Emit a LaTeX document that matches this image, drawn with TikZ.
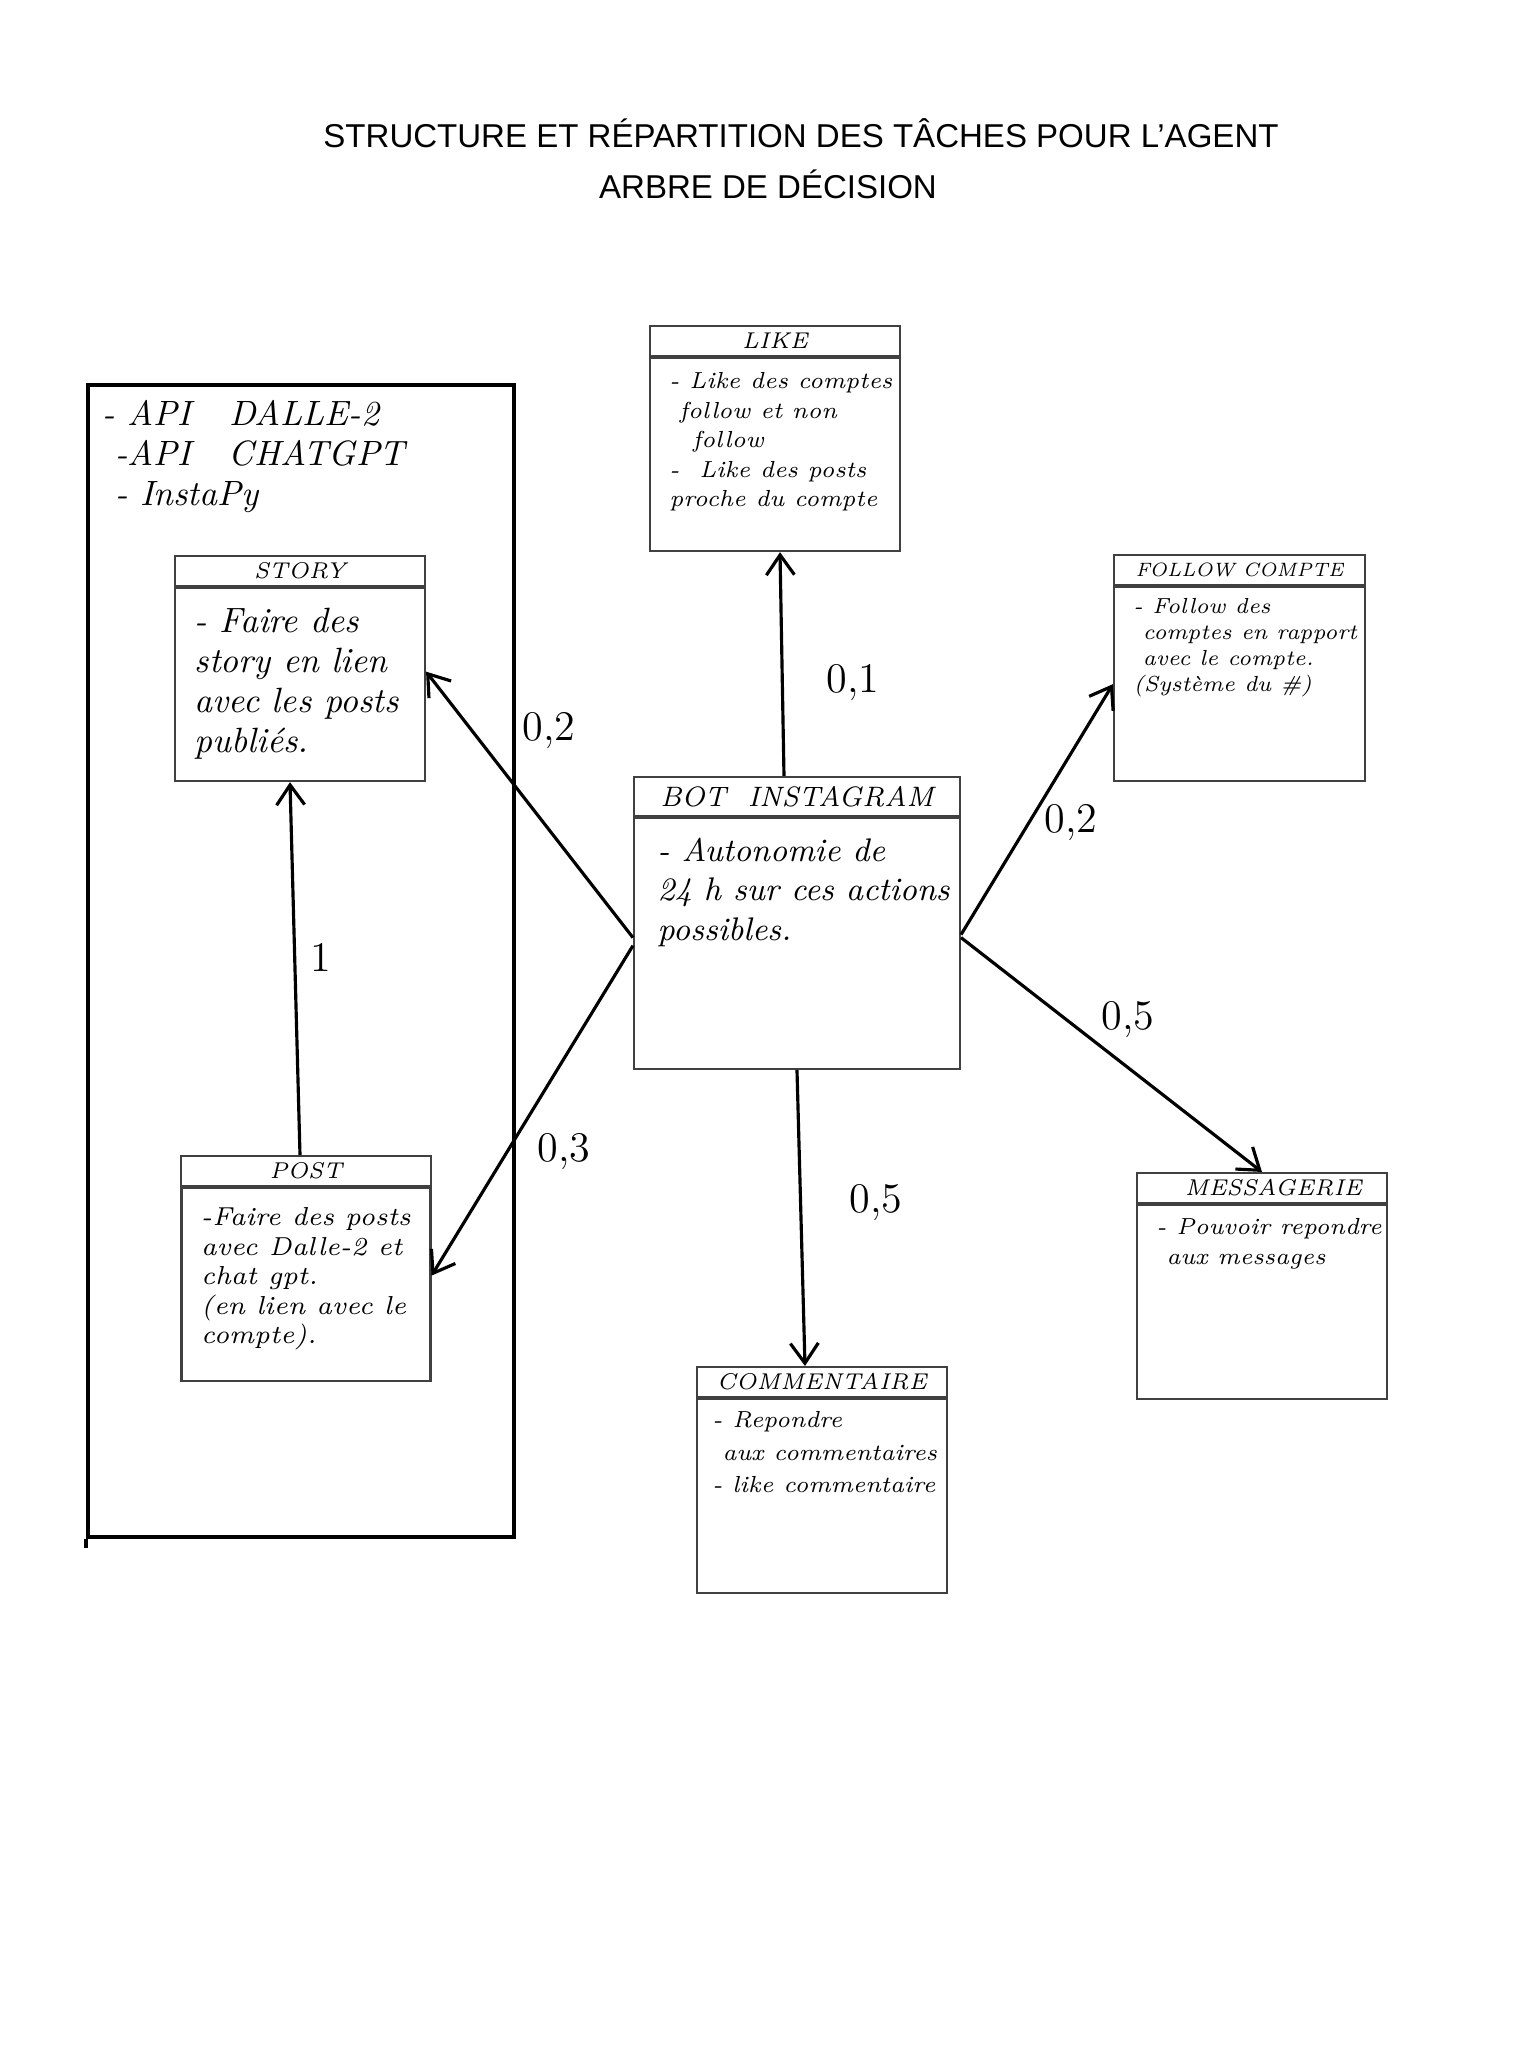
\documentclass[tikz,border=0pt]{standalone}
\usepackage{fontspec}
\newfontfamily\titrefont{Liberation Sans}
\usetikzlibrary{arrows.meta}

\begin{document}
\begin{tikzpicture}[scale=1]
        % ================= styles =================
        % boites : une bande de titre et un corps, traits fins gris
        \tikzset{
            titre/.style={draw=black!75, line width=0.6pt, minimum width=2.5cm, minimum height=0.3cm, inner sep=0pt, font=\itshape\fontsize{6.5}{7}\selectfont\addfontfeature{LetterSpace=18}},
            corps/.style={draw=black!75, line width=0.6pt, minimum width=2.5cm, minimum height=1.93cm, inner sep=0pt, anchor=north},
            notes/.style={inner sep=0pt, align=left, anchor=north west, font=\itshape\fontsize{6.6}{8.4}\selectfont},
            cadre/.style={draw=black, line width=1.2pt, inner sep=0pt},
            lien/.style={line width=0.9pt, -{Straight Barb[length=2mm,width=2.8mm]}},
            poids/.style={font=\fontsize{12}{14}\selectfont}
        }

        \useasboundingbox (0,0) rectangle (15.36,-20.48);

        % ================= titre =================
        \node[font=\titrefont\fontsize{9.4}{10}\selectfont] (titre1) at (8.01,-1.33) {STRUCTURE ET RÉPARTITION DES TÂCHES POUR L’AGENT};
        \node[font=\titrefont\fontsize{9.4}{10}\selectfont] (titre2) at (7.68,-1.84) {ARBRE DE DÉCISION};

        % ================= outils (cadre de gauche) =================
        \node[cadre, minimum width=4.26cm, minimum height=11.52cm] (outils) at (3.01,-9.61) {};
        \draw[line width=1.2pt] (outils.south west) -- ++(0,-0.09);
        \node[notes, font=\itshape\fontsize{10}{11.4}\selectfont] (outils-t) at ([shift={(0.16,-0.17)}]outils.north west)
            {- API\ \ \ DALLE-2\\\ -API\ \ \ CHATGPT\\\ - InstaPy};

        % STORY
        \node[titre] (story) at (3.00,-5.71) {STORY};
        \node[corps] (story-c) at (story.south) {};
        \node[notes, font=\itshape\fontsize{10}{11.4}\selectfont] (story-t) at ([shift={(0.2,-0.2)}]story-c.north west)
            {- Faire des\\story en lien\\avec les posts\\publiés.};

        % POST
        \node[titre] (post) at (3.06,-11.71) {POST};
        \node[corps, minimum width=2.49cm] (post-c) at (post.south) {};
        \node[notes, font=\itshape\fontsize{7.4}{8.4}\selectfont] (post-t) at ([shift={(0.2,-0.2)}]post-c.north west)
            {-Faire des posts\\avec Dalle-2 et\\chat gpt.\\(en lien avec le\\compte).};

        % ================= bot et actions =================
        % BOT INSTAGRAM : boite centrale, plus grande
        \node[titre, minimum width=3.26cm, minimum height=0.39cm, font=\itshape\fontsize{8}{9}\selectfont\addfontfeature{LetterSpace=20}] (bot) at (7.97,-7.965) {BOT\ \ INSTAGRAM};
        \node[corps, minimum width=3.26cm, minimum height=2.51cm] (bot-c) at (bot.south) {};
        \node[notes, font=\itshape\fontsize{9.3}{11.3}\selectfont] (bot-t) at ([shift={(0.24,-0.2)}]bot-c.north west)
            {- Autonomie de\\24 h sur ces actions\\possibles.};

        % LIKE
        \node[titre] (like) at (7.75,-3.41) {LIKE};
        \node[corps] (like-c) at (like.south) {};
        \node[notes] (like-t) at ([shift={(0.2,-0.15)}]like-c.north west)
            {- Like des comptes\\\ follow et non\\\quad follow\\- \ Like des posts\\proche du compte};

        % FOLLOW COMPTE
        \node[titre, minimum width=2.51cm, font=\itshape\fontsize{5.5}{6}\selectfont\addfontfeature{LetterSpace=10}] (follow) at (12.395,-5.70) {FOLLOW COMPTE};
        \node[corps, minimum width=2.51cm, minimum height=1.94cm] (follow-c) at (follow.south) {};
        \node[notes, font=\itshape\fontsize{6.2}{7.4}\selectfont] (follow-t) at ([shift={(0.2,-0.12)}]follow-c.north west)
            {- Follow des\\\ comptes en rapport\\\ avec le compte.\\(Système du \#)};

        % MESSAGERIE
        \node[titre] (mess) at (12.62,-11.88) {\quad MESSAGERIE};
        \node[corps, minimum height=1.94cm] (mess-c) at (mess.south) {};
        \node[notes] (mess-t) at ([shift={(0.2,-0.14)}]mess-c.north west)
            {- Pouvoir repondre\\\ aux messages};

        % COMMENTAIRE
        \node[titre] (comm) at (8.22,-13.82) {COMMENTAIRE};
        \node[corps, minimum height=1.94cm] (comm-c) at (comm.south) {};
        \node[notes, font=\itshape\fontsize{6.6}{9.2}\selectfont] (comm-t) at ([shift={(0.16,-0.13)}]comm-c.north west)
            {- Repondre\\\ aux commentaires\\- like commentaire};

        % ================= liens et poids =================
        \draw[lien] ([xshift=-0.13cm]bot.north) -- ([xshift=0.05cm]like-c.south);
        \draw[lien] ([yshift=0.06cm]bot-c.west) -- ([yshift=0.13cm]story-c.east);
        \draw[lien] ([yshift=-0.02cm]bot-c.west) -- ([yshift=0.09cm]post-c.east);
        \draw[lien] ([yshift=0.09cm]bot-c.east) -- (follow-c.west);
        \draw[lien] ([yshift=0.06cm]bot-c.east) -- (mess.north);
        \draw[lien] (bot-c.south) -- ([xshift=-0.17cm]comm.north);
        \draw[lien] ([xshift=-0.06cm]post.north) -- ([xshift=-0.1cm]story-c.south);

        \node[poids] (p-like) at (8.53,-6.83) {0,1};
        \node[poids] (p-story) at (5.49,-7.31) {0,2};
        \node[poids] (p-post) at (5.64,-11.52) {0,3};
        \node[poids] (p-comm) at (8.76,-12.03) {0,5};
        \node[poids] (p-follow) at (10.71,-8.23) {0,2};
        \node[poids] (p-mess) at (11.28,-10.20) {0,5};
        \node[poids] (p-post-story) at (3.21,-9.57) {1};

    \end{tikzpicture}
\end{document}
